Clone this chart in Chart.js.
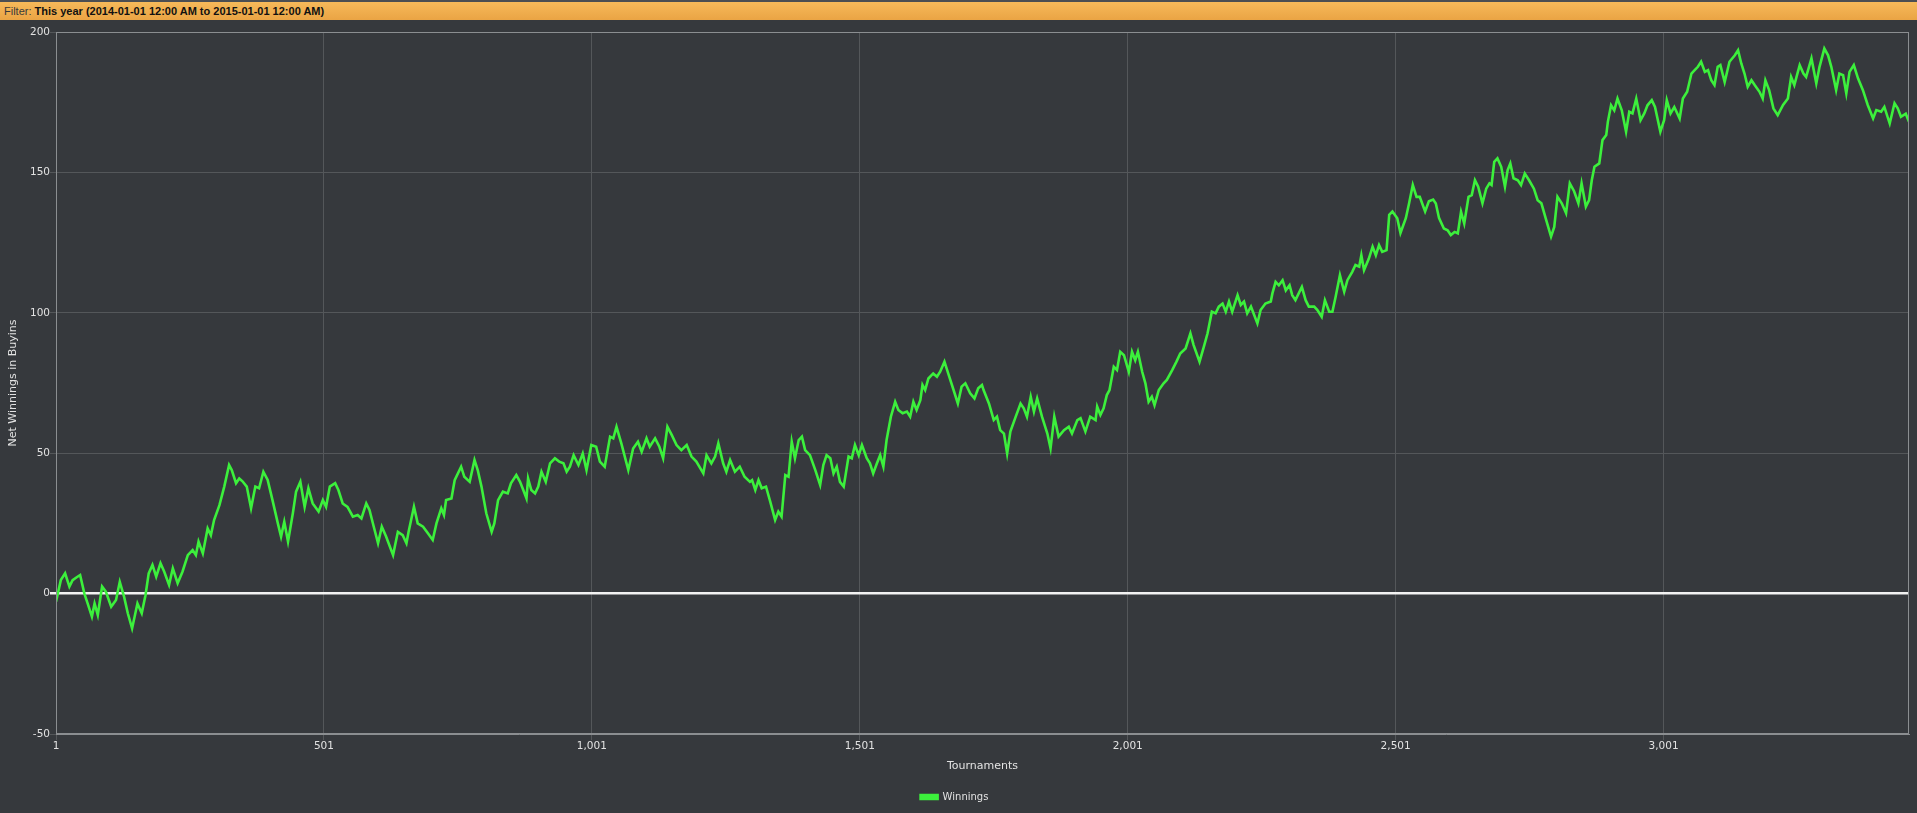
<!DOCTYPE html>
<html>
<head>
<meta charset="utf-8">
<script src="https://cdn.jsdelivr.net/npm/chart.js@4"></script>
<style>
  html, body { margin: 0; padding: 0; background: #36393d; overflow: hidden; }
  #filter {
    position: absolute; left: 0; top: 0; width: 1917px; height: 18px;
    border-top: 2px solid #4b4e52;
    background: linear-gradient(#f6b95a, #eaa444);
    font: 11px "Liberation Sans", sans-serif; line-height: 18px;
    color: #3a3a3a; padding-left: 4px; box-sizing: content-box;
  }
  #filter b { color: #111; font-weight: bold; }
  #wrap { position: absolute; left: 0; top: 20px; width: 1917px; height: 793px; }
</style>
</head>
<body>
<div id="filter">Filter: <b>This year (2014-01-01 12:00 AM to 2015-01-01 12:00 AM)</b></div>
<div id="wrap"><canvas id="chart"></canvas></div>
<script>
// tournament number and net winnings (buyins)
var tournaments = [
  1, 10, 18, 26, 32, 41, 46, 54, 60, 68, 73, 79, 87, 94, 104, 113, 120, 128, 135, 143,
  153, 161, 168, 174, 181, 188, 196, 203, 212, 219, 228, 237, 247, 256, 262, 267, 275, 284, 290, 296,
  306, 315, 324, 329, 337, 343, 349, 357, 365, 373, 380, 388, 396, 405, 415, 421, 427,
  434, 443, 449, 457, 465, 472, 480, 491, 499, 505, 512, 522, 528, 536, 545, 555, 564, 571, 580,
  586, 594, 602, 609, 617, 630, 639, 648, 655, 659, 669, 676, 686, 695, 704, 711, 720, 725, 729, 739,
  745, 757, 763, 773, 782, 788, 795, 804, 814, 819, 826, 835, 844, 850, 860,
  867, 873, 879, 882, 888, 895, 901, 907, 915, 923, 932, 940, 948, 954, 960, 967, 976, 984, 991, 1000,
  1009, 1016, 1025, 1035, 1041, 1047, 1056, 1069, 1078, 1087, 1094, 1103, 1109, 1119, 1127, 1134, 1142, 1150, 1159, 1168,
  1178, 1187, 1196, 1209, 1215, 1224, 1231, 1237, 1246, 1252, 1259, 1268, 1277, 1286, 1296,
  1300, 1306, 1312, 1318, 1326, 1334, 1343, 1349, 1355, 1362, 1368, 1374, 1380, 1387, 1393, 1399, 1408, 1418, 1427, 1433,
  1439, 1446, 1452, 1458, 1464, 1471, 1480, 1486, 1492, 1499, 1505, 1514, 1520, 1526, 1533, 1539, 1545, 1551, 1559, 1567,
  1573, 1581, 1589, 1595, 1601, 1607, 1614, 1618, 1623, 1629, 1638, 1645, 1651, 1659, 1666, 1676, 1684, 1691, 1698, 1707,
  1715, 1722, 1729,
  1732, 1742, 1751, 1757, 1763, 1770, 1776, 1782, 1791, 1801, 1807, 1813, 1820, 1826, 1832, 1841, 1851, 1857, 1864, 1872,
  1882, 1891, 1897, 1907, 1913, 1922, 1931, 1941, 1944, 1950, 1956, 1962, 1967, 1975, 1981, 1987, 1994, 2003, 2009, 2015,
  2020, 2028, 2034, 2040, 2046, 2051, 2059, 2068, 2074, 2084, 2092, 2099, 2109, 2118, 2124, 2135, 2143, 2150, 2158,
  2165, 2171, 2178, 2184, 2190, 2196, 2206, 2212, 2218, 2224, 2231, 2237, 2243, 2249, 2258, 2268, 2271, 2277, 2283, 2290,
  2296, 2303, 2308, 2314, 2326, 2333, 2339, 2349, 2355, 2363, 2369, 2377, 2383, 2389, 2397, 2405, 2411, 2420, 2426, 2433,
  2437, 2442, 2451, 2458, 2464, 2470, 2476, 2484, 2489, 2495, 2504, 2510, 2520, 2526, 2533, 2540, 2546, 2556, 2563, 2571,
  2576, 2582, 2591,
  2598, 2604, 2611, 2617, 2623, 2629, 2637, 2643, 2649, 2655, 2663, 2670, 2676, 2680, 2685, 2691, 2698, 2705, 2710, 2715,
  2721, 2729, 2735, 2742, 2750, 2759, 2766, 2773, 2782, 2791, 2797, 2803, 2811, 2819, 2826, 2834, 2842, 2848, 2856, 2862,
  2867, 2872, 2881, 2887, 2894, 2897, 2903, 2909, 2915, 2923, 2931, 2937, 2943, 2950, 2958, 2965, 2971, 2979, 2985, 2995,
  3002, 3007, 3014, 3021,
  3031, 3037, 3045, 3053, 3059, 3065, 3071, 3078, 3084, 3090, 3096, 3102, 3107, 3115, 3124, 3134, 3140, 3146, 3152, 3158,
  3165, 3171, 3180, 3186, 3191, 3198, 3206, 3214, 3224, 3233, 3239, 3245, 3255, 3262, 3267, 3277, 3286, 3292, 3301, 3308,
  3314, 3323, 3329, 3336, 3342, 3348, 3356, 3364, 3373, 3382, 3392, 3398, 3407, 3413, 3423, 3432, 3438, 3444, 3453, 3459
];
var winnings = [
  -2.9, 4.8, 7.2, 2.5, 4.8, 6.0, 6.6, 0, -3.5, -8.2, -3.5, -7.6, 2.5, 0.7, -4.7, -2.3, 4.2, -1.1, -7, -12.4,
  -3.5, -7, -0.6, 7.2, 10.2, 6, 10.8, 7.8, 3.1, 9, 3.7, 7.8, 13.7, 15.5, 13.7, 18.5, 14.3, 23.2, 20.8, 26.2,
  31.5, 38.1, 45.8, 44, 39.3, 41, 40, 38.1, 30.4, 38.1, 37.5, 43.4, 40.5, 33.3, 25, 20.3, 25.6,
  18.5, 28.6, 36.3, 39.8, 30.9, 37.5, 32.1, 29.2, 33.3, 30.9, 38.1, 39.3, 36.9, 32.1, 30.9, 27.4, 28, 26.8, 32.1,
  29.8, 23.8, 17.9, 23.8, 20.3, 13.7, 22, 20.8, 17.9, 22, 30.9, 25, 23.8, 21.5, 19.1, 25, 30.4, 28, 33.3, 33.9,
  40.4, 45.2, 41.6, 39.8, 47.6, 44, 38.1, 28.6, 22, 25, 33.3, 36.3, 35.7, 39.3, 42.2,
  39.8, 36.9, 33.9, 41, 36.9, 35.7, 38.1, 43.4, 39.8, 46.4, 48.2, 47, 46.4, 43.4, 45.2, 49.3, 45.8, 49.9, 44, 52.9,
  52.3, 47, 45.2, 55.9, 55.3, 59.4, 53.5, 44, 51.7, 54.1, 50.5, 55.3, 52.3, 55.3, 52.3, 48.2, 59.4, 56.5, 52.9, 51.1,
  52.9, 48.8, 47, 42.8, 49.3, 46.4, 48.8, 53.5, 46.4, 43.4, 47.6, 43.4, 45.2, 41.6, 39.8,
  40.4, 36.9, 40.4, 37.5, 38.1, 32.7, 26.2, 29.2, 27.4, 42.2, 41.6, 54.1, 48.2, 54.7, 55.9, 51.1, 49.3, 44, 38.7, 45.8,
  49.3, 48.2, 42.8, 45.2, 39.8, 38.1, 48.8, 48.2, 52.9, 49.3, 52.9, 48.2, 46.4, 42.8, 46.4, 49.3, 45.2, 54.7, 63, 68.3,
  65.4, 64.2, 64.8, 63, 68.3, 65.4, 68.9, 74.3, 72.5, 76.6, 78.4, 77.2, 79, 82.6, 78.4, 72.5, 67.7, 73.7, 74.9, 71.3,
  69.5, 73.1, 74.3,
  72.5, 67.7, 61.8, 63, 58.2, 57, 49.9, 57.7, 62.5, 67.7, 66, 63, 70.1, 64.8, 69.5, 63, 57, 51.7, 63, 55.9,
  58.2, 59.4, 57, 61.8, 62.5, 57.7, 63, 61.8, 66.6, 63.6, 66, 70.7, 72.5, 80.8, 79.6, 86.1, 84.9, 79, 86.1, 83.1,
  86.1, 79, 74.9, 68.3, 70.1, 67.1, 72.5, 74.9, 76.1, 79.6, 82.6, 85.5, 87.3, 92.7, 88.5, 82.6, 87.9, 92.7, 100.4,
  99.8, 102.2, 103.3, 100.4, 104, 100.4, 106.3, 102.8, 104, 99.8, 102.2, 99.2, 96.2, 101, 103.3, 104, 106.9, 111, 109.8, 111.6,
  108, 109.8, 106.3, 104.5, 109.2, 104.5, 102.2, 102.2, 101, 98.6, 104.5, 100.4, 100.4, 105.7, 113.4, 107.5, 111.6, 114.6, 117, 116.4,
  120.5, 115.2, 119.3, 123.5, 120.5, 124.1, 121.7, 122.3, 134.9, 136.1, 133.7, 128.4, 133.7, 138.9, 145.5, 141.3, 141.3, 136.1, 139.7, 140.3,
  138.9, 133.7, 130,
  129.4, 127.7, 128.8, 128.3, 136, 131.8, 141.3, 141.9, 147.2, 144.9, 139, 144.2, 146.1, 145.5, 153.8, 155, 152, 144.9, 150.8, 153.2,
  147.9, 147.2, 145.5, 149.6, 147.2, 144.2, 140.1, 139, 133, 127.1, 130.6, 141.3, 139, 135.5, 146.1, 143.3, 139, 146.1, 137.8, 140.1,
  147.2, 152, 153.2, 161.5, 163.3, 168, 173.9, 172.1, 176.3, 172.1, 164.5, 171.6, 171, 176.3, 168.6, 171, 173.9, 175.7, 173.3, 164.5,
  168.6, 175.7, 171, 173.3,
  169.2, 176.3, 178.7, 185.2, 186.4, 187.6, 189.4, 185.8, 186.4, 182.8, 181.1, 187.6, 188.2, 182.2, 189.4, 191.7, 193.5, 188.8, 185.2, 180.5,
  182.8, 181.1, 178.7, 176.3, 182.8, 179.3, 172.8, 170.4, 174, 176.3, 184, 181.1, 188.2, 185.2, 184, 190.6, 181.7, 187.6, 194.1, 191.7,
  187.6, 179.3, 185.2, 184.6, 178.1, 185.8, 188.2, 183.4, 179.3, 174, 169.2, 172.2, 171.6, 173.3, 167.4, 174.6, 172.8, 169.8, 170.9, 168
];
var xTicks = [1, 501, 1001, 1501, 2001, 2501, 3001];
var yTicks = [-50, 0, 50, 100, 150, 200];

var points = tournaments.map(function(t, i) { return { x: t, y: winnings[i] }; });

// frame round the plot area
var plotFrame = {
  id: 'plotFrame',
  afterDraw: function(chart) {
    var a = chart.chartArea, c = chart.ctx;
    c.save();
    c.strokeStyle = '#8b8e91';
    c.lineWidth = 1;
    c.strokeRect(a.left + 0.5, a.top + 0.5, a.right - a.left - 1, a.bottom - a.top - 1);
    c.restore();
  }
};

var font = 'DejaVu Sans';
var ctx = document.getElementById('chart').getContext('2d');
new Chart(ctx, {
  type: 'line',
  data: {
    datasets: [{
      label: 'Winnings',
      data: points,
      borderColor: '#3cf03c',
      backgroundColor: '#3cf03c',
      borderWidth: 2.6,
      pointRadius: 0,
      tension: 0
    }]
  },
  options: {
    responsive: true,
    maintainAspectRatio: false,
    animation: false,
    layout: { padding: { left: 0, right: 8, top: 12, bottom: 1 } },
    scales: {
      x: {
        type: 'linear',
        min: 1,
        max: 3459,
        afterBuildTicks: function(scale) {
          scale.ticks = xTicks.map(function(v) { return { value: v }; });
        },
        afterFit: function(scale) { scale.height = 48; },
        ticks: {
          color: '#e2e2e2',
          font: { family: font, size: 10.5 },
          padding: 0,
          maxRotation: 0,
          callback: function(v) { return v.toLocaleString('en-US'); }
        },
        grid: { color: '#54575a', tickLength: 6 },
        border: { color: '#8b8e91' },
        title: {
          display: true,
          text: 'Tournaments',
          color: '#e2e2e2',
          font: { family: font, size: 11 },
          padding: { top: 0, bottom: 9 }
        }
      },
      y: {
        min: yTicks[0],
        max: yTicks[yTicks.length - 1],
        afterBuildTicks: function(scale) {
          scale.ticks = yTicks.map(function(v) { return { value: v }; });
        },
        afterFit: function(scale) { scale.width = 56; },
        ticks: {
          color: '#e2e2e2',
          font: { family: font, size: 10.5 },
          padding: 0
        },
        grid: {
          tickLength: 6,
          color: function(c) { return c.tick && c.tick.value === 0 ? '#f2f2f2' : '#54575a'; },
          lineWidth: function(c) { return c.tick && c.tick.value === 0 ? 2.5 : 1; }
        },
        border: { color: '#8b8e91' },
        title: {
          display: true,
          text: 'Net Winnings in Buyins',
          color: '#e2e2e2',
          font: { family: font, size: 11 },
          padding: { top: 7, bottom: 0 }
        }
      }
    },
    plugins: {
      legend: {
        position: 'bottom',
        labels: {
          color: '#e2e2e2',
          font: { family: font, size: 10 },
          boxWidth: 17,
          boxHeight: 4,
          padding: 10
        }
      },
      tooltip: { enabled: false }
    }
  },
  plugins: [plotFrame]
});
</script>
</body>
</html>
